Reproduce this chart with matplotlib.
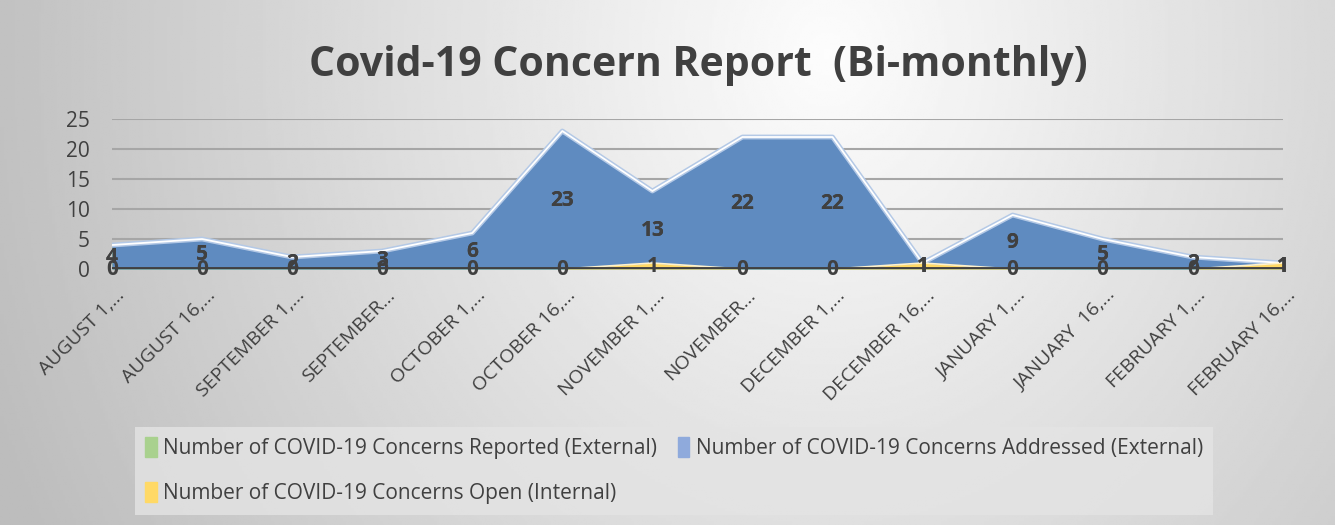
import matplotlib
matplotlib.use("Agg")
import matplotlib.pyplot as plt
import matplotlib.transforms as mtransforms
import numpy as np
from matplotlib.patches import Patch

# DATA
periods = ["AUGUST 1,…", "AUGUST 16,…", "SEPTEMBER 1,…", "SEPTEMBER…",
           "OCTOBER 1,…", "OCTOBER 16,…", "NOVEMBER 1,…", "NOVEMBER…",
           "DECEMBER 1,…", "DECEMBER 16,…", "JANUARY 1,…", "JANUARY  16,…",
           "FEBRUARY 1,…", "FEBRUARY 16,…"]
reported = [4, 5, 2, 3, 6, 23, 13, 22, 22, 1, 9, 5, 2, 1]
addressed = [4, 5, 2, 3, 6, 23, 13, 22, 22, 1, 9, 5, 2, 1]
open_int = [0, 0, 0, 0, 0, 0, 1, 0, 0, 1, 0, 0, 0, 1]
names = ["Number of COVID-19 Concerns Reported (External)",
         "Number of COVID-19 Concerns Addressed (External)",
         "Number of COVID-19 Concerns Open (Internal)"]

plt.rcParams['font.family'] = ['Open Sans', 'DejaVu Sans']

txt = '#404040'

fig = plt.figure(figsize=(13.35, 5.25), dpi=100)

# background gradient (grey edges, light centre-top)
bg = fig.add_axes([0, 0, 1, 1], zorder=-10)
yy, xx = np.mgrid[0:1:200j, 0:1:500j]
d = np.sqrt(((xx - 0.62) / 0.75) ** 2 + ((yy - 0.1) / 2.2) ** 2)
shade = np.clip(0.99 - 0.28 * d, 0.74, 1)
bg.imshow(shade, cmap='gray', vmin=0, vmax=1, extent=[0, 1, 0, 1],
          aspect='auto', origin='upper')
bg.axis('off')

ax = fig.add_axes([0.0839, 0.4876, 0.877, 0.2857])
ax.patch.set_visible(False)
x = np.arange(len(periods))

ax.fill_between(x, reported, color='#70ad47', zorder=2, lw=0)
ax.fill_between(x, addressed, color='#5f8bc0', zorder=3, lw=0)
ax.plot(x, addressed, color='#b4c9e6', lw=3.5, zorder=3.2)
ax.plot(x, addressed, color='white', lw=1.3, zorder=3.3)
ax.fill_between(x, open_int, color='#ffd966', zorder=4, lw=0)
ax.plot(x, open_int, color='#fff2cc', lw=1.2, zorder=4.1)

ax.axhline(0, color=txt, lw=3.5, zorder=5)

for vals in (reported, addressed, open_int):
    for i, v in enumerate(vals):
        ax.text(i, v / 2, str(v), ha='center', va='center', fontsize=15,
                fontweight='bold', color=txt, zorder=6)

ax.set_xlim(0, 13)
ax.set_ylim(0, 25)
ax.set_yticks(range(0, 26, 5))
ax.yaxis.grid(True, color='#a6a6a6', lw=1.5)
ax.set_axisbelow(True)
for s in ax.spines.values():
    s.set_visible(False)
ax.tick_params(axis='y', length=0, pad=16, labelsize=15, labelcolor=txt)
ax.set_xticks(x)
ax.set_xticklabels(periods, rotation=45, ha='right', va='center',
                   rotation_mode='anchor', fontsize=14, color=txt)
ax.tick_params(axis='x', length=0, pad=17)
shift = mtransforms.ScaledTranslation(10 / 100, 0, fig.dpi_scale_trans)
for lab in ax.get_xticklabels():
    lab.set_transform(lab.get_transform() + shift)

fig.text(0.523, 0.876, "Covid-19 Concern Report  (Bi-monthly)", ha='center',
         va='center', fontsize=29.5, fontweight='bold', color=txt)

handles = [Patch(color='#a9d18e', label=names[0]),
           Patch(color='#ffd966', label=names[2]),
           Patch(color='#8faadc', label=names[1])]
leg = fig.legend(handles=handles, ncol=2, loc='upper left',
                 bbox_to_anchor=(0.101, 0.187), fontsize=15, frameon=True,
                 fancybox=False, handlelength=0.55, handleheight=1.1,
                 handletextpad=0.3, labelspacing=1.1, columnspacing=1.0,
                 borderpad=0.5, labelcolor=txt, borderaxespad=0)
leg.get_frame().set_facecolor('#e4e4e4')
leg.get_frame().set_edgecolor('none')
leg.get_frame().set_alpha(0.8)

fig.savefig("out.png")
